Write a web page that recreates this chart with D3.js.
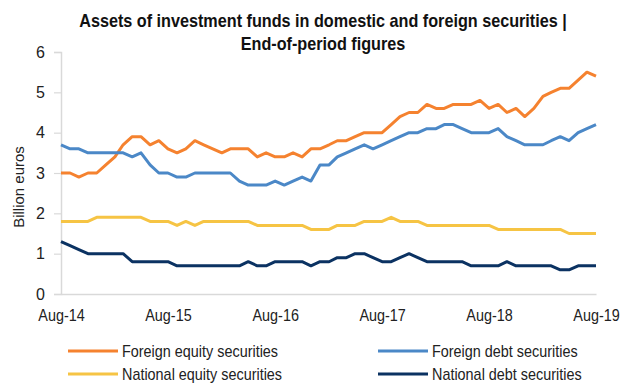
<!DOCTYPE html>
<html>
<head>
<meta charset="utf-8">
<script src="https://cdn.jsdelivr.net/npm/d3@7/dist/d3.min.js"></script>
<style>
  html, body { margin: 0; padding: 0; background: #fff; }
  svg { display: block; font-family: "Liberation Sans Narrow", "Arial Narrow", "Liberation Sans", Arial, sans-serif; }
</style>
</head>
<body>
<svg id="chart" width="624" height="383"></svg>
<script>
// Monthly end-of-period figures, Aug-2014 .. Aug-2019 (billion euros)
const months = d3.range(61).map(i => new Date(2014, 7 + i, 1));

const foreignEquity = [
  3.0, 3.0, 2.9, 3.0, 3.0, 3.2, 3.4, 3.7, 3.9, 3.9, 3.7,
  3.8, 3.6, 3.5, 3.6, 3.8, 3.7, 3.6, 3.5, 3.6, 3.6,
  3.6, 3.4, 3.5, 3.4, 3.4, 3.5, 3.4, 3.6, 3.6, 3.7,
  3.8, 3.8, 3.9, 4.0, 4.0, 4.0, 4.2, 4.4, 4.5, 4.5,
  4.7, 4.6, 4.6, 4.7, 4.7, 4.7, 4.8, 4.6, 4.7, 4.5,
  4.6, 4.4, 4.6, 4.9, 5.0, 5.1, 5.1, 5.3, 5.5, 5.4
];
const foreignDebt = [
  3.7, 3.6, 3.6, 3.5, 3.5, 3.5, 3.5, 3.5, 3.4, 3.5, 3.2,
  3.0, 3.0, 2.9, 2.9, 3.0, 3.0, 3.0, 3.0, 3.0, 2.8,
  2.7, 2.7, 2.7, 2.8, 2.7, 2.8, 2.9, 2.8, 3.2, 3.2,
  3.4, 3.5, 3.6, 3.7, 3.6, 3.7, 3.8, 3.9, 4.0, 4.0,
  4.1, 4.1, 4.2, 4.2, 4.1, 4.0, 4.0, 4.0, 4.1, 3.9,
  3.8, 3.7, 3.7, 3.7, 3.8, 3.9, 3.8, 4.0, 4.1, 4.2
];
const nationalEquity = [
  1.8, 1.8, 1.8, 1.8, 1.9, 1.9, 1.9, 1.9, 1.9, 1.9, 1.8,
  1.8, 1.8, 1.7, 1.8, 1.7, 1.8, 1.8, 1.8, 1.8, 1.8,
  1.8, 1.7, 1.7, 1.7, 1.7, 1.7, 1.7, 1.6, 1.6, 1.6,
  1.7, 1.7, 1.7, 1.8, 1.8, 1.8, 1.9, 1.8, 1.8, 1.8,
  1.7, 1.7, 1.7, 1.7, 1.7, 1.7, 1.7, 1.7, 1.6, 1.6,
  1.6, 1.6, 1.6, 1.6, 1.6, 1.6, 1.5, 1.5, 1.5, 1.5
];
const nationalDebt = [
  1.3, 1.2, 1.1, 1.0, 1.0, 1.0, 1.0, 1.0, 0.8, 0.8, 0.8,
  0.8, 0.8, 0.7, 0.7, 0.7, 0.7, 0.7, 0.7, 0.7, 0.7,
  0.8, 0.7, 0.7, 0.8, 0.8, 0.8, 0.8, 0.7, 0.8, 0.8,
  0.9, 0.9, 1.0, 1.0, 0.9, 0.8, 0.8, 0.9, 1.0, 0.9,
  0.8, 0.8, 0.8, 0.8, 0.8, 0.7, 0.7, 0.7, 0.7, 0.8,
  0.7, 0.7, 0.7, 0.7, 0.7, 0.6, 0.6, 0.7, 0.7, 0.7
];

const seriesNames = [
  "Foreign equity securities", "Foreign debt securities",
  "National equity securities", "National debt securities"
];
const seriesValues = [foreignEquity, foreignDebt, nationalEquity, nationalDebt];
const seriesColors = ["#F5822F", "#4B88C7", "#F6C444", "#0B3262"];

const yTicks = [0, 1, 2, 3, 4, 5, 6];
const xTickLabels = ["Aug-14", "Aug-15", "Aug-16", "Aug-17", "Aug-18", "Aug-19"];
const xTickDates = xTickLabels.map((_, i) => new Date(2014 + i, 7, 1));

const titleLines = [
  "Assets of investment funds in domestic and foreign securities |",
  "End-of-period figures"
];
const yLabel = "Billion  euros";

// Horizontal squeeze that gives the regular sans a narrow-face look
const narrow = 0.9;

const svg = d3.select("#chart");
const margin = { left: 61, right: 28, top: 52, bottom: 89 };
const W = 624, H = 383;

const x = d3.scaleTime()
  .domain([months[0], months[months.length - 1]])
  .range([margin.left, W - margin.right]);
const y = d3.scaleLinear()
  .domain([0, 6])
  .range([H - margin.bottom, margin.top]);

// Title
svg.append("g")
  .selectAll("text")
  .data(titleLines)
  .join("text")
  .attr("transform", (d, i) => `translate(323,${27 + i * 23}) scale(${narrow},1)`)
  .attr("text-anchor", "middle")
  .attr("font-size", 18)
  .attr("font-weight", "bold")
  .attr("fill", "#111")
  .text(d => d);

// Y axis
const yAxis = svg.append("g")
  .attr("transform", `translate(${margin.left},0)`)
  .call(d3.axisLeft(y).tickValues(yTicks).tickFormat(d3.format("d")).tickSize(7).tickPadding(9));
yAxis.select(".domain").attr("stroke", "#d9d9d9").attr("stroke-width", 1.5);
yAxis.selectAll(".tick line").attr("stroke", "#d9d9d9").attr("stroke-width", 1.2);
yAxis.selectAll(".tick text")
  .attr("font-family", null)
  .attr("font-size", 16)
  .attr("fill", "#222");

// X axis
const xAxis = svg.append("g")
  .attr("transform", `translate(0,${y(0)})`)
  .call(d3.axisBottom(x).tickValues(xTickDates)
    .tickFormat((d, i) => xTickLabels[i]).tickSize(0).tickPadding(16));
xAxis.select(".domain").attr("stroke", "#d9d9d9").attr("stroke-width", 1.5);
xAxis.selectAll(".tick text")
  .attr("font-family", null)
  .attr("font-size", 16)
  .attr("transform", `scale(${narrow},1)`)
  .attr("fill", "#222");

// Y axis title
svg.append("text")
  .attr("transform", `translate(24,${(y(0) + y(6)) / 2 + 14}) rotate(-90)`)
  .attr("text-anchor", "middle")
  .attr("font-size", 15)
  .attr("fill", "#222")
  .text(yLabel);

// Lines
const line = d3.line()
  .x((d, i) => x(months[i]))
  .y(d => y(d));

svg.append("g")
  .selectAll("path")
  .data(seriesValues)
  .join("path")
  .attr("d", d => line(d))
  .attr("fill", "none")
  .attr("stroke", (d, i) => seriesColors[i])
  .attr("stroke-width", 3)
  .attr("stroke-linejoin", "round");

// Legend: two columns, two rows
const legend = svg.append("g")
  .selectAll("g")
  .data(seriesNames)
  .join("g")
  .attr("transform", (d, i) => `translate(${i % 2 === 0 ? 68 : 378},${i < 2 ? 351 : 374})`);
legend.append("line")
  .attr("x1", 0).attr("x2", 50)
  .attr("y1", 0).attr("y2", 0)
  .attr("stroke", (d, i) => seriesColors[i])
  .attr("stroke-width", 3);
legend.append("text")
  .attr("transform", `translate(54,5.5) scale(${narrow},1)`)
  .attr("font-size", 16)
  .attr("fill", "#222")
  .text(d => d);
</script>
</body>
</html>
